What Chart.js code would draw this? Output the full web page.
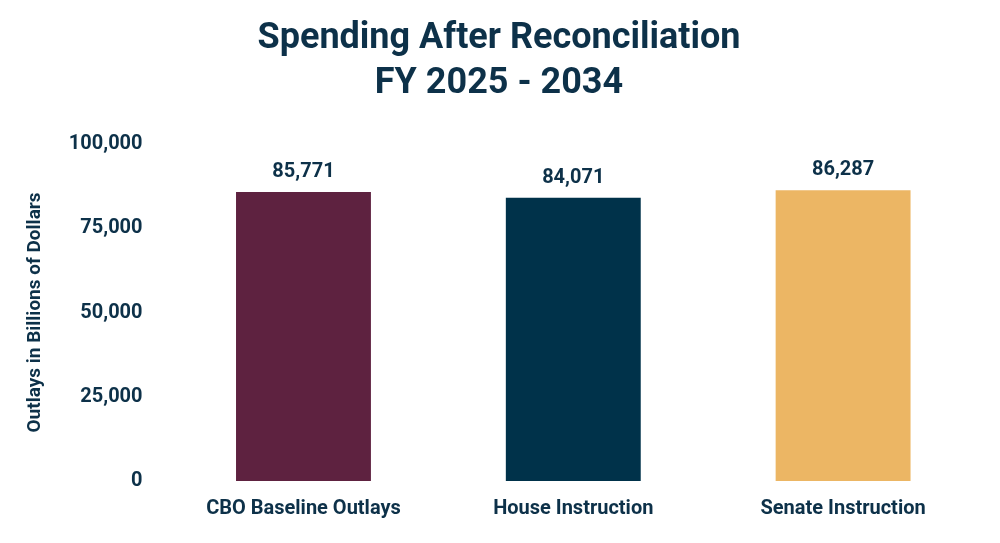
<!DOCTYPE html>
<html>
<head>
<meta charset="utf-8">
<script src="https://cdn.jsdelivr.net/npm/chart.js@4"></script>
<style>
  html, body { margin: 0; padding: 0; background: #fff; }
  #wrap { width: 1000px; height: 543px; }
</style>
</head>
<body>
<div id="wrap"><canvas id="c"></canvas></div>
<script>
const categories = ['CBO Baseline Outlays', 'House Instruction', 'Senate Instruction'];
const outlays = [85771, 84071, 86287];
const barColors = ['#5e2240', '#00324a', '#ecb664'];
const yTicks = [0, 25000, 50000, 75000, 100000];

const FONT = "'Liberation Sans Narrow', 'Roboto', sans-serif";
const INK = '#0d3149';

// draws the value above each bar
const valueLabels = {
    id: 'valueLabels',
    afterDatasetsDraw(chart) {
        const ctx = chart.ctx;
        const meta = chart.getDatasetMeta(0);
        ctx.save();
        ctx.font = `bold 20px ${FONT}`;
        ctx.fillStyle = INK;
        ctx.textAlign = 'center';
        ctx.textBaseline = 'bottom';
        meta.data.forEach((bar, i) => {
            ctx.fillText(outlays[i].toLocaleString('en-US'), bar.x, bar.y - 10);
        });
        ctx.restore();
    }
};

new Chart(document.getElementById('c'), {
    type: 'bar',
    data: {
        labels: categories,
        datasets: [{
            data: outlays,
            backgroundColor: barColors,
            barPercentage: 0.5,
            categoryPercentage: 1
        }]
    },
    options: {
        responsive: true,
        maintainAspectRatio: false,
        animation: false,
        layout: { padding: { left: 20, right: 22, top: 0, bottom: 14 } },
        plugins: {
            legend: { display: false },
            tooltip: { enabled: false },
            title: {
                display: true,
                text: ['Spending After Reconciliation', 'FY 2025 - 2034'],
                color: INK,
                font: { family: FONT, size: 36, weight: 'bold', lineHeight: 1.25 },
                padding: { top: 16, bottom: 38 }
            }
        },
        scales: {
            x: {
                grid: { display: false },
                border: { display: false },
                ticks: { color: INK, font: { family: FONT, size: 20, weight: 'bold' }, padding: 8 }
            },
            y: {
                min: 0,
                max: 100000,
                afterBuildTicks: axis => { axis.ticks = yTicks.map(v => ({ value: v })); },
                grid: { display: false },
                border: { display: false },
                ticks: {
                    color: INK,
                    font: { family: FONT, size: 20, weight: 'bold' },
                    padding: 18,
                    callback: v => v.toLocaleString('en-US')
                },
                title: {
                    display: true,
                    text: 'Outlays in Billions of Dollars',
                    color: INK,
                    font: { family: FONT, size: 19, weight: 'bold' },
                    padding: { bottom: 4 }
                }
            }
        }
    },
    plugins: [valueLabels]
});
</script>
</body>
</html>
